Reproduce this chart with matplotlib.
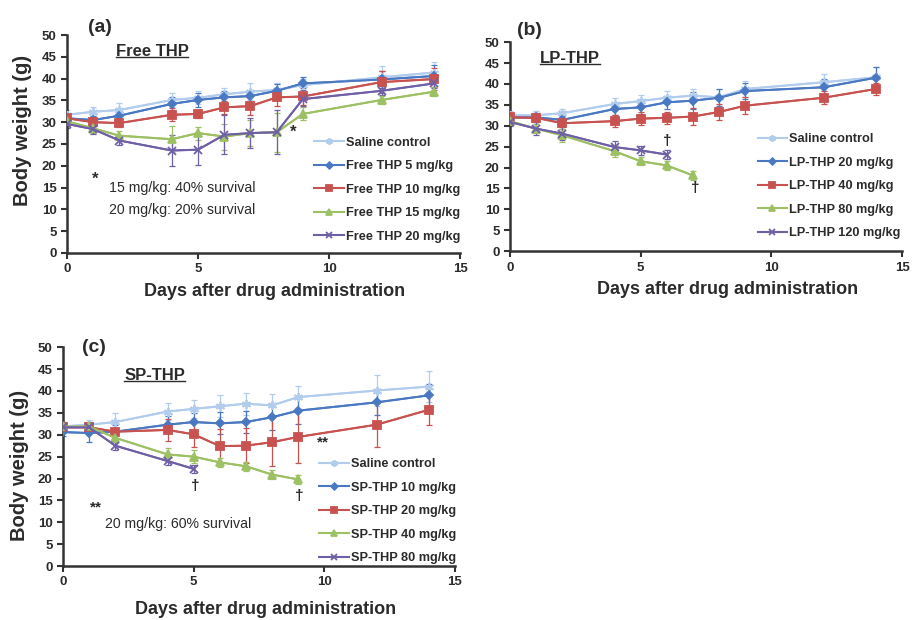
import numpy as np
import matplotlib
matplotlib.use("Agg")
import matplotlib.pyplot as plt
from matplotlib.lines import Line2D

plt.rcParams['font.family'] = ['Liberation Sans', 'DejaVu Sans']
plt.rcParams['font.weight'] = 'bold'

days = [0, 1, 2, 4, 5, 6, 7, 8, 9, 12, 14]

# panel (a) Free THP
a_saline = [31.7, 32.4, 32.8, 35.1, 35.6, 36.4, 37.0, 37.4, 38.5, 40.3, 41.4]
a_saline_err = [1, 1, 1.5, 1.5, 1.5, 1.5, 2, 1.5, 1.5, 2.5, 2.5]
a_5 = [30.9, 30.5, 31.5, 34.2, 35.1, 35.7, 36.0, 37.2, 38.9, 39.8, 40.6]
a_5_err = [1, 1, 1, 1.5, 1.5, 1.5, 1.5, 1.5, 1.5, 2, 2.5]
a_10 = [30.9, 30.0, 29.8, 31.7, 31.9, 33.4, 33.7, 35.7, 35.9, 39.2, 39.9]
a_10_err = [1, 1, 1, 1.5, 1, 1.5, 2, 2, 2, 2.5, 2.5]
a_15 = [30.2, 28.6, 26.9, 26.1, 27.5, 26.7, 27.5, 27.7, 31.9, 35.1, 37.0]
a_15_err = [1, 1, 1, 3, 1.5, 3, 3, 4.5, 1.5, 1, 1]
a_20 = [29.6, 28.4, 25.8, 23.5, 23.7, 27.1, 27.5, 27.7, 35.3, 37.2, 38.9]
a_20_err = [1, 1, 1, 3.5, 3.5, 4.5, 3.5, 5, 1.5, 1, 1]
a_labels = ['Saline control', 'Free THP 5 mg/kg', 'Free THP 10 mg/kg',
            'Free THP 15 mg/kg', 'Free THP 20 mg/kg']

# panel (b) LP-THP
b_saline = [32.5, 32.5, 33.0, 35.2, 35.9, 36.7, 37.2, 36.8, 38.8, 40.4, 41.6]
b_saline_err = [1, 1, 1, 1.5, 1.5, 1.5, 1.5, 2, 2, 2, 2.5]
b_20 = [32.0, 32.0, 31.4, 34.0, 34.4, 35.6, 36.0, 36.7, 38.3, 39.2, 41.5]
b_20_err = [1, 1, 1, 1.5, 1.5, 1.5, 2, 2, 2, 2, 2.5]
b_40 = [32.0, 31.9, 30.6, 31.1, 31.7, 31.9, 32.2, 33.3, 34.8, 36.7, 38.8]
b_40_err = [1, 1, 1.5, 1.5, 1.5, 1.5, 2, 2, 2, 1.5, 1.5]
b_80 = [31.1, 29.3, 27.7, 23.9, 21.5, 20.5, 18.1]
b_80_err = [1, 1, 1.5, 1.5, 1, 1, 1]
b_120 = [30.9, 29.3, 28.1, 24.9, 24.1, 23.1]
b_120_err = [1, 1.5, 1.5, 1.5, 1, 1]
b_labels = ['Saline control', 'LP-THP 20 mg/kg', 'LP-THP 40 mg/kg',
            'LP-THP 80 mg/kg', 'LP-THP 120 mg/kg']

# panel (c) SP-THP
c_saline = [31.9, 32.3, 32.9, 35.3, 35.9, 36.5, 37.1, 36.7, 38.6, 40.1, 41.0]
c_saline_err = [1, 1, 2, 2, 2, 2.5, 2.5, 2.5, 2.5, 3.5, 3.5]
c_10 = [30.6, 30.4, 30.7, 32.3, 32.9, 32.6, 32.9, 34.0, 35.5, 37.4, 39.0]
c_10_err = [1, 2, 1.5, 2, 2, 2.5, 2.5, 3, 3, 3, 2.5]
c_20 = [31.7, 31.7, 30.7, 31.1, 30.1, 27.4, 27.5, 28.3, 29.5, 32.3, 35.7]
c_20_err = [1, 1, 2, 2.5, 3, 4, 4, 5.5, 6, 5, 3.5]
c_40 = [31.9, 31.9, 29.3, 25.5, 25.0, 23.7, 22.8, 20.9, 19.8]
c_40_err = [1, 1, 1, 1.5, 1.5, 1, 1, 1, 1]
c_80 = [31.7, 31.7, 27.5, 24.0, 22.2]
c_80_err = [1, 1, 1, 1, 1]
c_labels = ['Saline control', 'SP-THP 10 mg/kg', 'SP-THP 20 mg/kg',
            'SP-THP 40 mg/kg', 'SP-THP 80 mg/kg']

colors = ['#b2cced', '#4a78c2', '#c8524f', '#9cc063', '#6f5fa6']
markers = [(6, 2, 0), 'D', 's', '^', 'x']
msizes = [6.5, 4.5, 6, 6, 6]

fig = plt.figure(figsize=(9.13, 6.2), dpi=100)
axa = fig.add_axes([0.0734, 0.592, 0.4306, 0.3515])
axb = fig.add_axes([0.5586, 0.595, 0.4294, 0.337])
axc = fig.add_axes([0.069, 0.087, 0.4293, 0.353])

txtc = '#2b2b2b'


def draw_panel(ax, series, errs, labels, leg_anchor, xlab_pos):
    handles = []
    for i, (ys, es) in enumerate(zip(series, errs)):
        xs = days[:len(ys)]
        ax.errorbar(xs, ys, yerr=es, color=colors[i], lw=1.3, elinewidth=0.9,
                    capsize=2, capthick=0.9, zorder=2 + i * 0.1)
        h, = ax.plot(xs, ys, color=colors[i], marker=markers[i], ms=msizes[i],
                     mew=1.3, lw=1.5, zorder=3 + i * 0.1)
        handles.append(h)
    ax.set_xlim(0, 15)
    ax.set_ylim(0, 50)
    ax.set_xticks([0, 5, 10, 15])
    ax.set_yticks(np.arange(0, 51, 5))
    for s in ['top', 'right']:
        ax.spines[s].set_visible(False)
    for s in ['left', 'bottom']:
        ax.spines[s].set_linewidth(1.8)
        ax.spines[s].set_color('#333333')
    ax.tick_params(direction='out', length=4, width=1.5, colors='#333333',
                   labelsize=9.5, labelcolor=txtc)
    for lab in ax.get_xticklabels() + ax.get_yticklabels():
        lab.set_fontweight('bold')
    ax.set_xlabel('Days after drug administration', fontsize=13,
                  fontweight='bold', color=txtc)
    ax.xaxis.set_label_coords(*xlab_pos)
    ax.legend(handles, labels, loc='upper left', bbox_to_anchor=leg_anchor,
              frameon=False, handlelength=2.3, handletextpad=0.2,
              labelspacing=0.9, labelcolor=txtc, markerscale=0.75,
              prop={'weight': 'bold', 'size': 9.2})


draw_panel(axa, [a_saline, a_5, a_10, a_15, a_20],
           [a_saline_err, a_5_err, a_10_err, a_15_err, a_20_err],
           a_labels, (0.6, 0.585), (0.527, -0.14))
draw_panel(axb, [b_saline, b_20, b_40, b_80, b_120],
           [b_saline_err, b_20_err, b_40_err, b_80_err, b_120_err],
           b_labels, (0.602, 0.62), (0.556, -0.145))
draw_panel(axc, [c_saline, c_10, c_20, c_40, c_80],
           [c_saline_err, c_10_err, c_20_err, c_40_err, c_80_err],
           c_labels, (0.625, 0.545), (0.518, -0.16))

axa.set_ylabel('Body weight (g)', fontsize=14.5, fontweight='bold', color=txtc)
axa.yaxis.set_label_coords(-0.088, 0.56)
axc.set_ylabel('Body weight (g)', fontsize=14.5, fontweight='bold', color=txtc)
axc.yaxis.set_label_coords(-0.086, 0.46)

# panel letters
fig.text(0.096, 0.948, '(a)', fontsize=14, fontweight='bold', color=txtc)
fig.text(0.566, 0.944, '(b)', fontsize=14, fontweight='bold', color=txtc)
fig.text(0.09, 0.432, '(c)', fontsize=14, fontweight='bold', color=txtc)

titles = [(axa, 1.85, 46.3, 'Free THP'), (axb, 1.15, 46.2, 'LP-THP'),
          (axc, 2.35, 43.6, 'SP-THP')]
title_objs = []
for ax, x, y, s in titles:
    t = ax.text(x, y, s, fontsize=12, fontweight='bold', color=txtc, va='center')
    title_objs.append(t)

# annotations (a)
axa.text(8.5, 27.6, '*', fontsize=12, fontweight='bold', color=txtc, va='center')
axa.text(0.95, 16.8, '*', fontsize=12, fontweight='bold', color=txtc, va='center')
axa.text(1.6, 14.9, '15 mg/kg: 40% survival', fontsize=10.2, fontweight='normal',
         color=txtc, va='center')
axa.text(1.6, 9.8, '20 mg/kg: 20% survival', fontsize=10.2, fontweight='normal',
         color=txtc, va='center')

# annotations (b)
axb.text(6.0, 26.3, '\u2020', fontsize=11, fontweight='bold', color=txtc,
         ha='center', va='center')
axb.text(7.1, 15.0, '\u2020', fontsize=11, fontweight='bold', color=txtc,
         ha='center', va='center')

# annotations (c)
axc.text(9.95, 28.2, '**', fontsize=11, fontweight='bold', color=txtc,
         ha='center', va='center')
axc.text(1.25, 13.3, '**', fontsize=11, fontweight='bold', color=txtc,
         ha='center', va='center')
axc.text(1.6, 9.5, '20 mg/kg: 60% survival', fontsize=10.2, fontweight='normal',
         color=txtc, va='center')
axc.text(5.05, 18.4, '\u2020', fontsize=11, fontweight='bold', color=txtc,
         ha='center', va='center')
axc.text(9.05, 16.1, '\u2020', fontsize=11, fontweight='bold', color=txtc,
         ha='center', va='center')

# underline the panel titles
fig.canvas.draw()
r = fig.canvas.get_renderer()
inv = fig.transFigure.inverted()
for t in title_objs:
    bb = t.get_window_extent(r)
    (x0, y0), (x1, y1) = inv.transform([(bb.x0, bb.y0), (bb.x1, bb.y1)])
    yl = y0 + 0.002
    fig.add_artist(Line2D([x0, x1], [yl, yl], color=txtc, lw=1.0,
                          transform=fig.transFigure))

fig.savefig('out.png', dpi=100)
